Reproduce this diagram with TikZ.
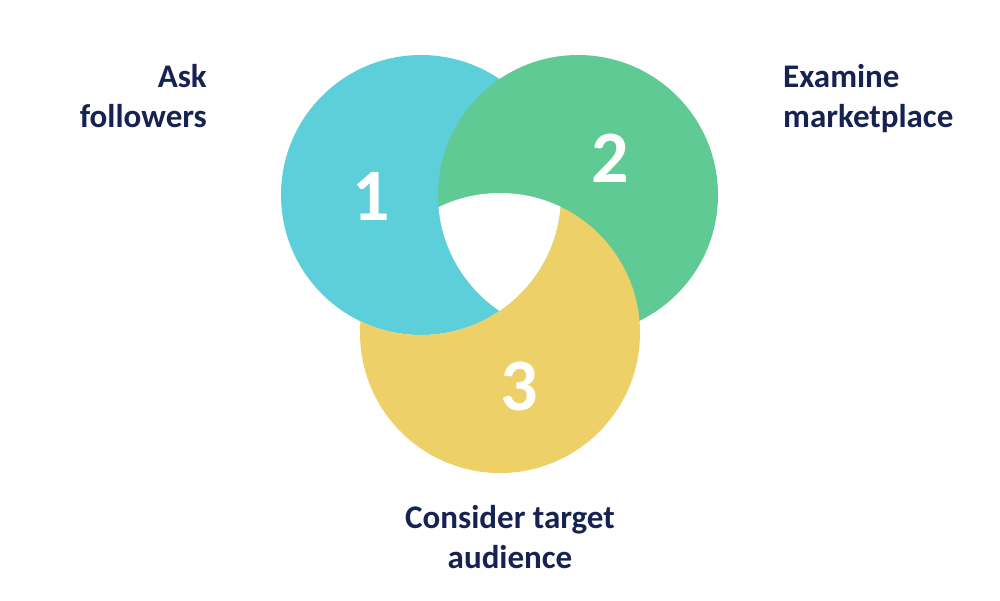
\documentclass[tikz,border=0pt]{standalone}
\usepackage{fontspec}
\setmainfont{Carlito}
\definecolor{cyanc}{RGB}{92,207,218}
\definecolor{greenc}{RGB}{95,202,148}
\definecolor{yellowc}{RGB}{238,208,104}
\definecolor{navy}{RGB}{22,34,82}
\begin{document}
\begin{tikzpicture}[x=1pt,y=-1pt,
  label/.style={font=\fontsize{33}{40}\selectfont\bfseries, text=navy, inner sep=0pt},
  num/.style={font=\fontsize{74}{80}\selectfont\bfseries, text=white, inner sep=0pt}]
\useasboundingbox (0,0) rectangle (1000,600);
\coordinate (c1) at (421,195);
\coordinate (c2) at (578,195);
\coordinate (c3) at (500,333);
\fill[cyanc] (c1) circle[radius=140pt];
\fill[greenc] (c2) circle[radius=140pt];
\begin{scope}[even odd rule]
  \clip (0,0) rectangle (1000,600) (c1) circle[radius=140pt];
  \fill[yellowc] (c3) circle[radius=140pt];
\end{scope}
\begin{scope}
  \clip (c1) circle[radius=140pt];
  \clip (c2) circle[radius=140pt];
  \fill[white] (c3) circle[radius=140pt];
\end{scope}
\node[num] (n1) at (371,196) {1};
\node[num] (n2) at (610,158) {2};
\node[num] (n3) at (519,386) {3};
\node[label, align=right, anchor=base east] (t1) at (207,127) {Ask\\followers};
\node[label, align=left, anchor=base west] (t2) at (783,127) {Examine\\marketplace};
\node[label, align=center, anchor=base] (t3) at (510,568) {Consider target\\audience};
\end{tikzpicture}
\end{document}
